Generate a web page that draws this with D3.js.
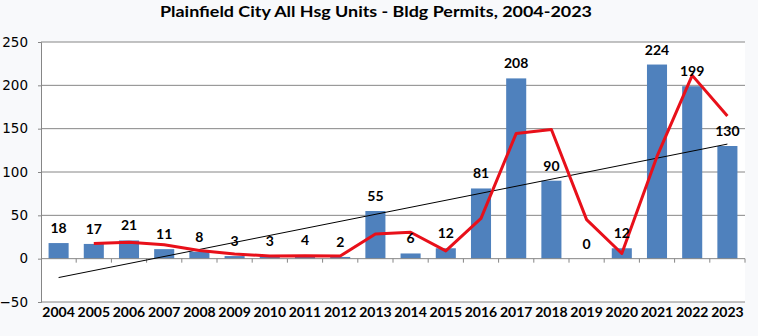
<!DOCTYPE html>
<html>
<head>
<meta charset="utf-8">
<script src="https://cdn.jsdelivr.net/npm/d3@7/dist/d3.min.js"></script>
<style>
  html, body { margin: 0; padding: 0; background: #f8f9fb; }
  svg { display: block; }
</style>
</head>
<body>
<svg id="chart" width="758" height="336"></svg>
<script>
// Annual permit counts
const years = ["2004","2005","2006","2007","2008","2009","2010","2011","2012","2013",
               "2014","2015","2016","2017","2018","2019","2020","2021","2022","2023"];
const units = [18, 17, 21, 11, 8, 3, 3, 4, 2, 55, 6, 12, 81, 208, 90, 0, 12, 224, 199, 130];

// Two-year moving average (starts with 2005)
const avgYears = years.slice(1);
const movingAvg = [17.5, 19, 16, 9.5, 5.5, 3, 3.5, 3, 28.5, 30.5, 9, 46.5, 144.5, 149, 45, 6, 118, 211.5, 164.5];

// Linear trend endpoints (2004, 2023)
const trendYears = ["2004", "2023"];
const trendValues = [-21.8, 132.2];

const yTicks = [-50, 0, 50, 100, 150, 200, 250];

const svg = d3.select("#chart");
const plot = { left: 41, right: 745, top: 42, bottom: 302 };

const x = d3.scaleBand().domain(years).range([plot.left, plot.right]).paddingInner(0.43).paddingOuter(0.215);
const xc = d => x(d) + x.bandwidth() / 2;
const y = d3.scaleLinear().domain([-50, 250]).range([plot.bottom, plot.top]);

// plot background
svg.append("rect")
  .attr("x", plot.left).attr("y", plot.top)
  .attr("width", plot.right - plot.left).attr("height", plot.bottom - plot.top)
  .attr("fill", "#ffffff");

// title
svg.append("text")
  .attr("x", 376).attr("y", 17)
  .attr("text-anchor", "middle")
  .attr("font-family", "Lato")
  .attr("font-weight", "bold")
  .attr("font-size", 16)
  .attr("textLength", 432)
  .attr("lengthAdjust", "spacingAndGlyphs")
  .attr("fill", "#000")
  .text("Plainfield City All Hsg Units - Bldg Permits, 2004-2023");

// y axis with gridlines
const yAxis = d3.axisLeft(y).tickValues(yTicks).tickSize(3).tickPadding(10).tickFormat(d3.format("d"));
const gy = svg.append("g").attr("transform", `translate(${plot.left},0)`).call(yAxis);
gy.select(".domain").attr("stroke", "#868686");
gy.selectAll(".tick line").attr("stroke", "#868686");
gy.selectAll(".tick text")
  .attr("font-family", "DejaVu Sans")
  .attr("font-size", 13.5)
  .attr("fill", "#000");

svg.append("g").selectAll("line").data(yTicks.filter(d => d !== 0)).join("line")
  .attr("x1", plot.left).attr("x2", plot.right)
  .attr("y1", d => y(d)).attr("y2", d => y(d))
  .attr("stroke", "#868686").attr("stroke-width", 1);

// bars
svg.append("g").selectAll("rect").data(years).join("rect")
  .attr("x", d => x(d))
  .attr("y", (d, i) => y(units[i]))
  .attr("width", x.bandwidth())
  .attr("height", (d, i) => y(0) - y(units[i]))
  .attr("fill", "#4f81bd");

// x axis along zero, ticks at category boundaries
const bounds = d3.scaleLinear().domain([0, years.length]).range([plot.left, plot.right]);
svg.append("line")
  .attr("x1", plot.left).attr("x2", plot.right)
  .attr("y1", y(0)).attr("y2", y(0))
  .attr("stroke", "#868686");
svg.append("g").selectAll("line").data(d3.range(1, years.length + 1)).join("line")
  .attr("x1", d => bounds(d)).attr("x2", d => bounds(d))
  .attr("y1", y(0)).attr("y2", y(0) + 4)
  .attr("stroke", "#868686");

// category labels at the bottom
svg.append("g").selectAll("text").data(years).join("text")
  .attr("x", d => xc(d))
  .attr("y", 317)
  .attr("text-anchor", "middle")
  .attr("font-family", "Lato")
  .attr("font-weight", "bold")
  .attr("font-size", 14)
  .attr("fill", "#000")
  .text(d => d);

// trend line
svg.append("line")
  .attr("x1", xc(trendYears[0])).attr("y1", y(trendValues[0]))
  .attr("x2", xc(trendYears[1])).attr("y2", y(trendValues[1]))
  .attr("stroke", "#000").attr("stroke-width", 1);

// moving average line
const line = d3.line().x(d => xc(d[0])).y(d => y(d[1]));
svg.append("path")
  .datum(avgYears.map((d, i) => [d, movingAvg[i]]))
  .attr("d", line)
  .attr("fill", "none")
  .attr("stroke", "#e8101a")
  .attr("stroke-width", 3)
  .attr("stroke-linejoin", "round");

// value labels
svg.append("g").selectAll("text").data(years).join("text")
  .attr("x", d => xc(d))
  .attr("y", (d, i) => y(units[i]) - 10)
  .attr("text-anchor", "middle")
  .attr("font-family", "Lato")
  .attr("font-weight", "bold")
  .attr("font-size", 14)
  .attr("fill", "#000")
  .text((d, i) => units[i]);
</script>
</body>
</html>
